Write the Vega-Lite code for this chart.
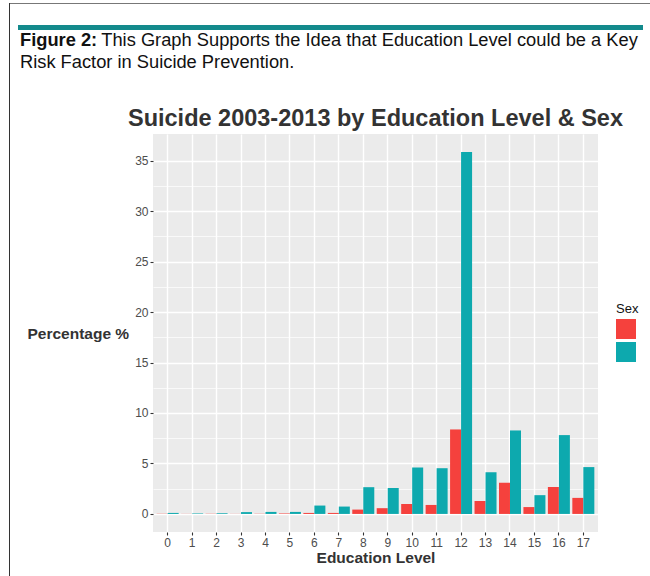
{
  "$schema": "https://vega.github.io/schema/vega-lite/v6.json",
  "padding": {"left": 9, "top": 3, "right": 0, "bottom": 0},
  "background": "white",
  "config": {
    "view": {"stroke": null},
    "font": "Liberation Sans",
    "concat": {"spacing": 0}
  },
  "datasets": {
    "suicide": [
      {"level": 0, "sex": "Female", "pct": 0.02}, {"level": 0, "sex": "Male", "pct": 0.10},
      {"level": 1, "sex": "Female", "pct": 0.01}, {"level": 1, "sex": "Male", "pct": 0.05},
      {"level": 2, "sex": "Female", "pct": 0.02}, {"level": 2, "sex": "Male", "pct": 0.07},
      {"level": 3, "sex": "Female", "pct": 0.01}, {"level": 3, "sex": "Male", "pct": 0.18},
      {"level": 4, "sex": "Female", "pct": 0.02}, {"level": 4, "sex": "Male", "pct": 0.20},
      {"level": 5, "sex": "Female", "pct": 0.05}, {"level": 5, "sex": "Male", "pct": 0.20},
      {"level": 6, "sex": "Female", "pct": 0.10}, {"level": 6, "sex": "Male", "pct": 0.83},
      {"level": 7, "sex": "Female", "pct": 0.10}, {"level": 7, "sex": "Male", "pct": 0.73},
      {"level": 8, "sex": "Female", "pct": 0.43}, {"level": 8, "sex": "Male", "pct": 2.65},
      {"level": 9, "sex": "Female", "pct": 0.57}, {"level": 9, "sex": "Male", "pct": 2.57},
      {"level": 10, "sex": "Female", "pct": 0.99}, {"level": 10, "sex": "Male", "pct": 4.60},
      {"level": 11, "sex": "Female", "pct": 0.89}, {"level": 11, "sex": "Male", "pct": 4.53},
      {"level": 12, "sex": "Female", "pct": 8.37}, {"level": 12, "sex": "Male", "pct": 35.85},
      {"level": 13, "sex": "Female", "pct": 1.28}, {"level": 13, "sex": "Male", "pct": 4.13},
      {"level": 14, "sex": "Female", "pct": 3.09}, {"level": 14, "sex": "Male", "pct": 8.27},
      {"level": 15, "sex": "Female", "pct": 0.68}, {"level": 15, "sex": "Male", "pct": 1.86},
      {"level": 16, "sex": "Female", "pct": 2.67}, {"level": 16, "sex": "Male", "pct": 7.81},
      {"level": 17, "sex": "Female", "pct": 1.59}, {"level": 17, "sex": "Male", "pct": 4.64}
    ]
  },
  "spacing": 0,
  "resolve": {"scale": {"color": "independent"}, "legend": {"color": "independent"}},
  "hconcat": [
    {
      "width": 1, "height": 573,
      "data": {"values": []},
      "mark": "rule",
      "encoding": {},
      "view": {"fill": "#333333", "stroke": null}
    },
    {
      "spacing": 0,
      "resolve": {"scale": {"color": "independent"}, "legend": {"color": "independent"}},
      "vconcat": [
        {
          "width": 640, "height": 1,
          "data": {"values": []},
          "mark": "rule",
          "encoding": {},
          "view": {"fill": "#777777", "stroke": null}
        },
        {
          "width": 10, "height": 21,
          "data": {"values": []},
          "mark": "rule",
          "encoding": {},
          "view": {"fill": null, "stroke": null}
        },
        {
          "spacing": 0,
          "hconcat": [
            {
              "width": 8, "height": 5,
              "data": {"values": []},
              "mark": "rule",
              "encoding": {},
              "view": {"fill": null, "stroke": null}
            },
            {
              "width": 625, "height": 5,
              "data": {"values": []},
              "mark": "rule",
              "encoding": {},
              "view": {"fill": "#138a8c", "stroke": null},
              "title": {
                "text": "Figure 2:",
                "subtitle": ["\u200b\u00a0\u00a0\u00a0\u00a0\u00a0\u00a0\u00a0\u00a0\u00a0\u00a0\u00a0\u00a0\u00a0\u00a0\u00a0\u00a0This Graph Supports the Idea that Education Level could be a Key", "Risk Factor in Suicide Prevention."],
                "orient": "bottom",
                "anchor": "start",
                "frame": "group",
                "offset": 2,
                "dx": 2,
                "font": "Liberation Sans",
                "fontSize": 18.3,
                "fontWeight": "bold",
                "color": "#111111",
                "subtitleFont": "Liberation Sans",
                "subtitleFontSize": 18.3,
                "subtitleFontWeight": "normal",
                "subtitleColor": "#111111",
                "subtitleLineHeight": 21.7,
                "subtitlePadding": -18.3
              }
            }
          ]
        },
        {
          "width": 10, "height": 35,
          "data": {"values": []},
          "mark": "rule",
          "encoding": {},
          "view": {"fill": null, "stroke": null}
        },
        {
          "spacing": 0,
          "resolve": {"scale": {"color": "independent"}, "legend": {"color": "independent"}},
          "hconcat": [
            {
              "width": 16, "height": 1,
              "data": {"values": []},
              "mark": "rule",
              "encoding": {},
              "view": {"fill": null, "stroke": null}
            },
            {
              "width": 445, "height": 398,
              "view": {"fill": "#EBEBEB", "stroke": null},
              "data": {"name": "suicide"},
              "title": {
                "text": "Suicide 2003-2013 by Education Level & Sex",
                "anchor": "middle",
                "font": "Liberation Sans",
                "fontSize": 23.5,
                "fontWeight": "bold",
                "color": "#333333",
                "baseline": "bottom",
                "offset": -20
              },
              "mark": {"type": "bar"},
              "encoding": {
                "x": {
                  "field": "level",
                  "type": "ordinal",
                  "scale": {"paddingInner": 0, "paddingOuter": 0.1},
                  "axis": {
                    "title": "Education Level",
                    "titleFont": "Liberation Sans",
                    "titleFontSize": 15.5,
                    "titleFontWeight": "bold",
                    "titleColor": "#333333",
                    "titlePadding": 2,
                    "labelAngle": 0,
                    "labelFont": "Liberation Sans",
                    "labelFontSize": 12,
                    "labelColor": "#4d4d4d",
                    "labelPadding": 2,
                    "bandPosition": 0.5,
                    "domain": false,
                    "ticks": true,
                    "tickSize": 3,
                    "tickWidth": 1.1,
                    "tickColor": "#333333",
                    "grid": true,
                    "gridColor": "#ffffff",
                    "gridWidth": 1.4,
                    "gridOpacity": 1
                  }
                },
                "xOffset": {
                  "field": "sex",
                  "type": "nominal",
                  "sort": ["Female", "Male"],
                  "scale": {"paddingInner": 0, "paddingOuter": 0.111}
                },
                "y": {
                  "field": "pct",
                  "type": "quantitative",
                  "scale": {"domain": [-1.79, 37.64], "nice": false, "zero": false},
                  "axis": {
                    "title": "Percentage %",
                    "titleAngle": 0,
                    "titleAlign": "right",
                    "titleBaseline": "middle",
                    "titlePadding": 6,
                    "titleFont": "Liberation Sans",
                    "titleFontSize": 15.5,
                    "titleFontWeight": "bold",
                    "titleColor": "#333333",
                    "values": [0, 2.5, 5, 7.5, 10, 12.5, 15, 17.5, 20, 22.5, 25, 27.5, 30, 32.5, 35],
                    "labelExpr": "datum.value % 5 === 0 ? datum.label : ''",
                    "labelFont": "Liberation Sans",
                    "labelFontSize": 12,
                    "labelColor": "#4d4d4d",
                    "labelPadding": 2,
                    "domain": false,
                    "tickSize": 3,
                    "tickWidth": 1.1,
                    "tickColor": "#333333",
                    "tickOpacity": {"condition": {"test": "datum.value % 5 !== 0", "value": 0}, "value": 1},
                    "grid": true,
                    "gridColor": "#ffffff",
                    "gridOpacity": 1,
                    "gridWidth": {"condition": {"test": "datum.value % 5 !== 0", "value": 0.7}, "value": 1.4}
                  }
                },
                "color": {
                  "field": "sex",
                  "type": "nominal",
                  "scale": {"domain": ["Female", "Male"], "range": ["#F5413D", "#0DA9AE"]},
                  "legend": {
                    "orient": "none",
                    "legendX": 463,
                    "legendY": 169,
                    "title": "Sex",
                    "titleFont": "Liberation Sans",
                    "titleFontSize": 13,
                    "titleFontWeight": "normal",
                    "titleColor": "#111111",
                    "titlePadding": 3,
                    "symbolType": "square",
                    "symbolSize": 400,
                    "symbolStrokeWidth": 0,
                    "symbolOpacity": 1,
                    "labelExpr": "''",
                    "rowPadding": 3,
                    "padding": 0
                  }
                }
              }
            }
          ]
        }
      ]
    }
  ]
}
